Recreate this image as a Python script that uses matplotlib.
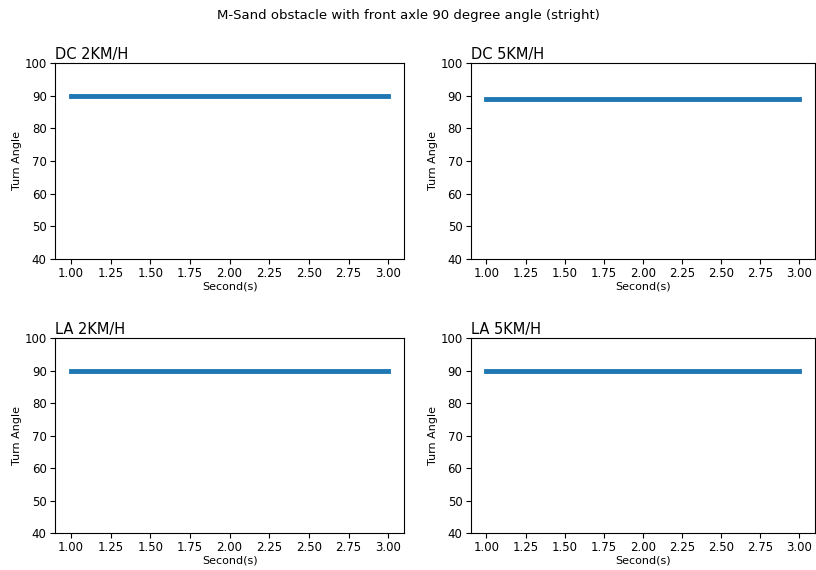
"""
Turn angle over time for the M-Sand obstacle run, front axle at 90 degrees.
"""


import matplotlib
matplotlib.use('Agg')
import matplotlib.pyplot as plt


seconds = [1, 2, 3]

dc_2kmh = [90, 90, 90]
dc_5kmh = [89, 89, 89]
la_2kmh = [90, 90, 90]
la_5kmh = [90, 90, 90]

panel_titles = ['DC 2KM/H', 'DC 5KM/H', 'LA 2KM/H', 'LA 5KM/H']


def main():

    fig = plt.figure(figsize=(8.16, 5.70), dpi=100)
    fig.suptitle('M-Sand obstacle with front axle 90 degree angle (stright)',
                 fontsize=9.5, y=0.985)

    rects = [
        [0.0674, 0.5456, 0.428, 0.344],
        [0.577, 0.5456, 0.4216, 0.344],
        [0.0674, 0.0649, 0.428, 0.342],
        [0.577, 0.0649, 0.4216, 0.342],
    ]
    series = [dc_2kmh, dc_5kmh, la_2kmh, la_5kmh]

    for rect, title, values in zip(rects, panel_titles, series):
        ax = fig.add_axes(rect)
        ax.plot(seconds, values, color='#1f77b4', linewidth=3.5)
        ax.set_ylim(40, 100)
        ax.set_title(title, loc='left', fontsize=10.5, pad=3)
        ax.set_xlabel('Second(s)', fontsize=8, labelpad=1)
        ax.set_ylabel('Turn Angle', fontsize=8, labelpad=1.5)
        ax.tick_params(labelsize=8.5, pad=2.5)

    fig.savefig('out.png', dpi=100)


if __name__ == '__main__':
    main()
